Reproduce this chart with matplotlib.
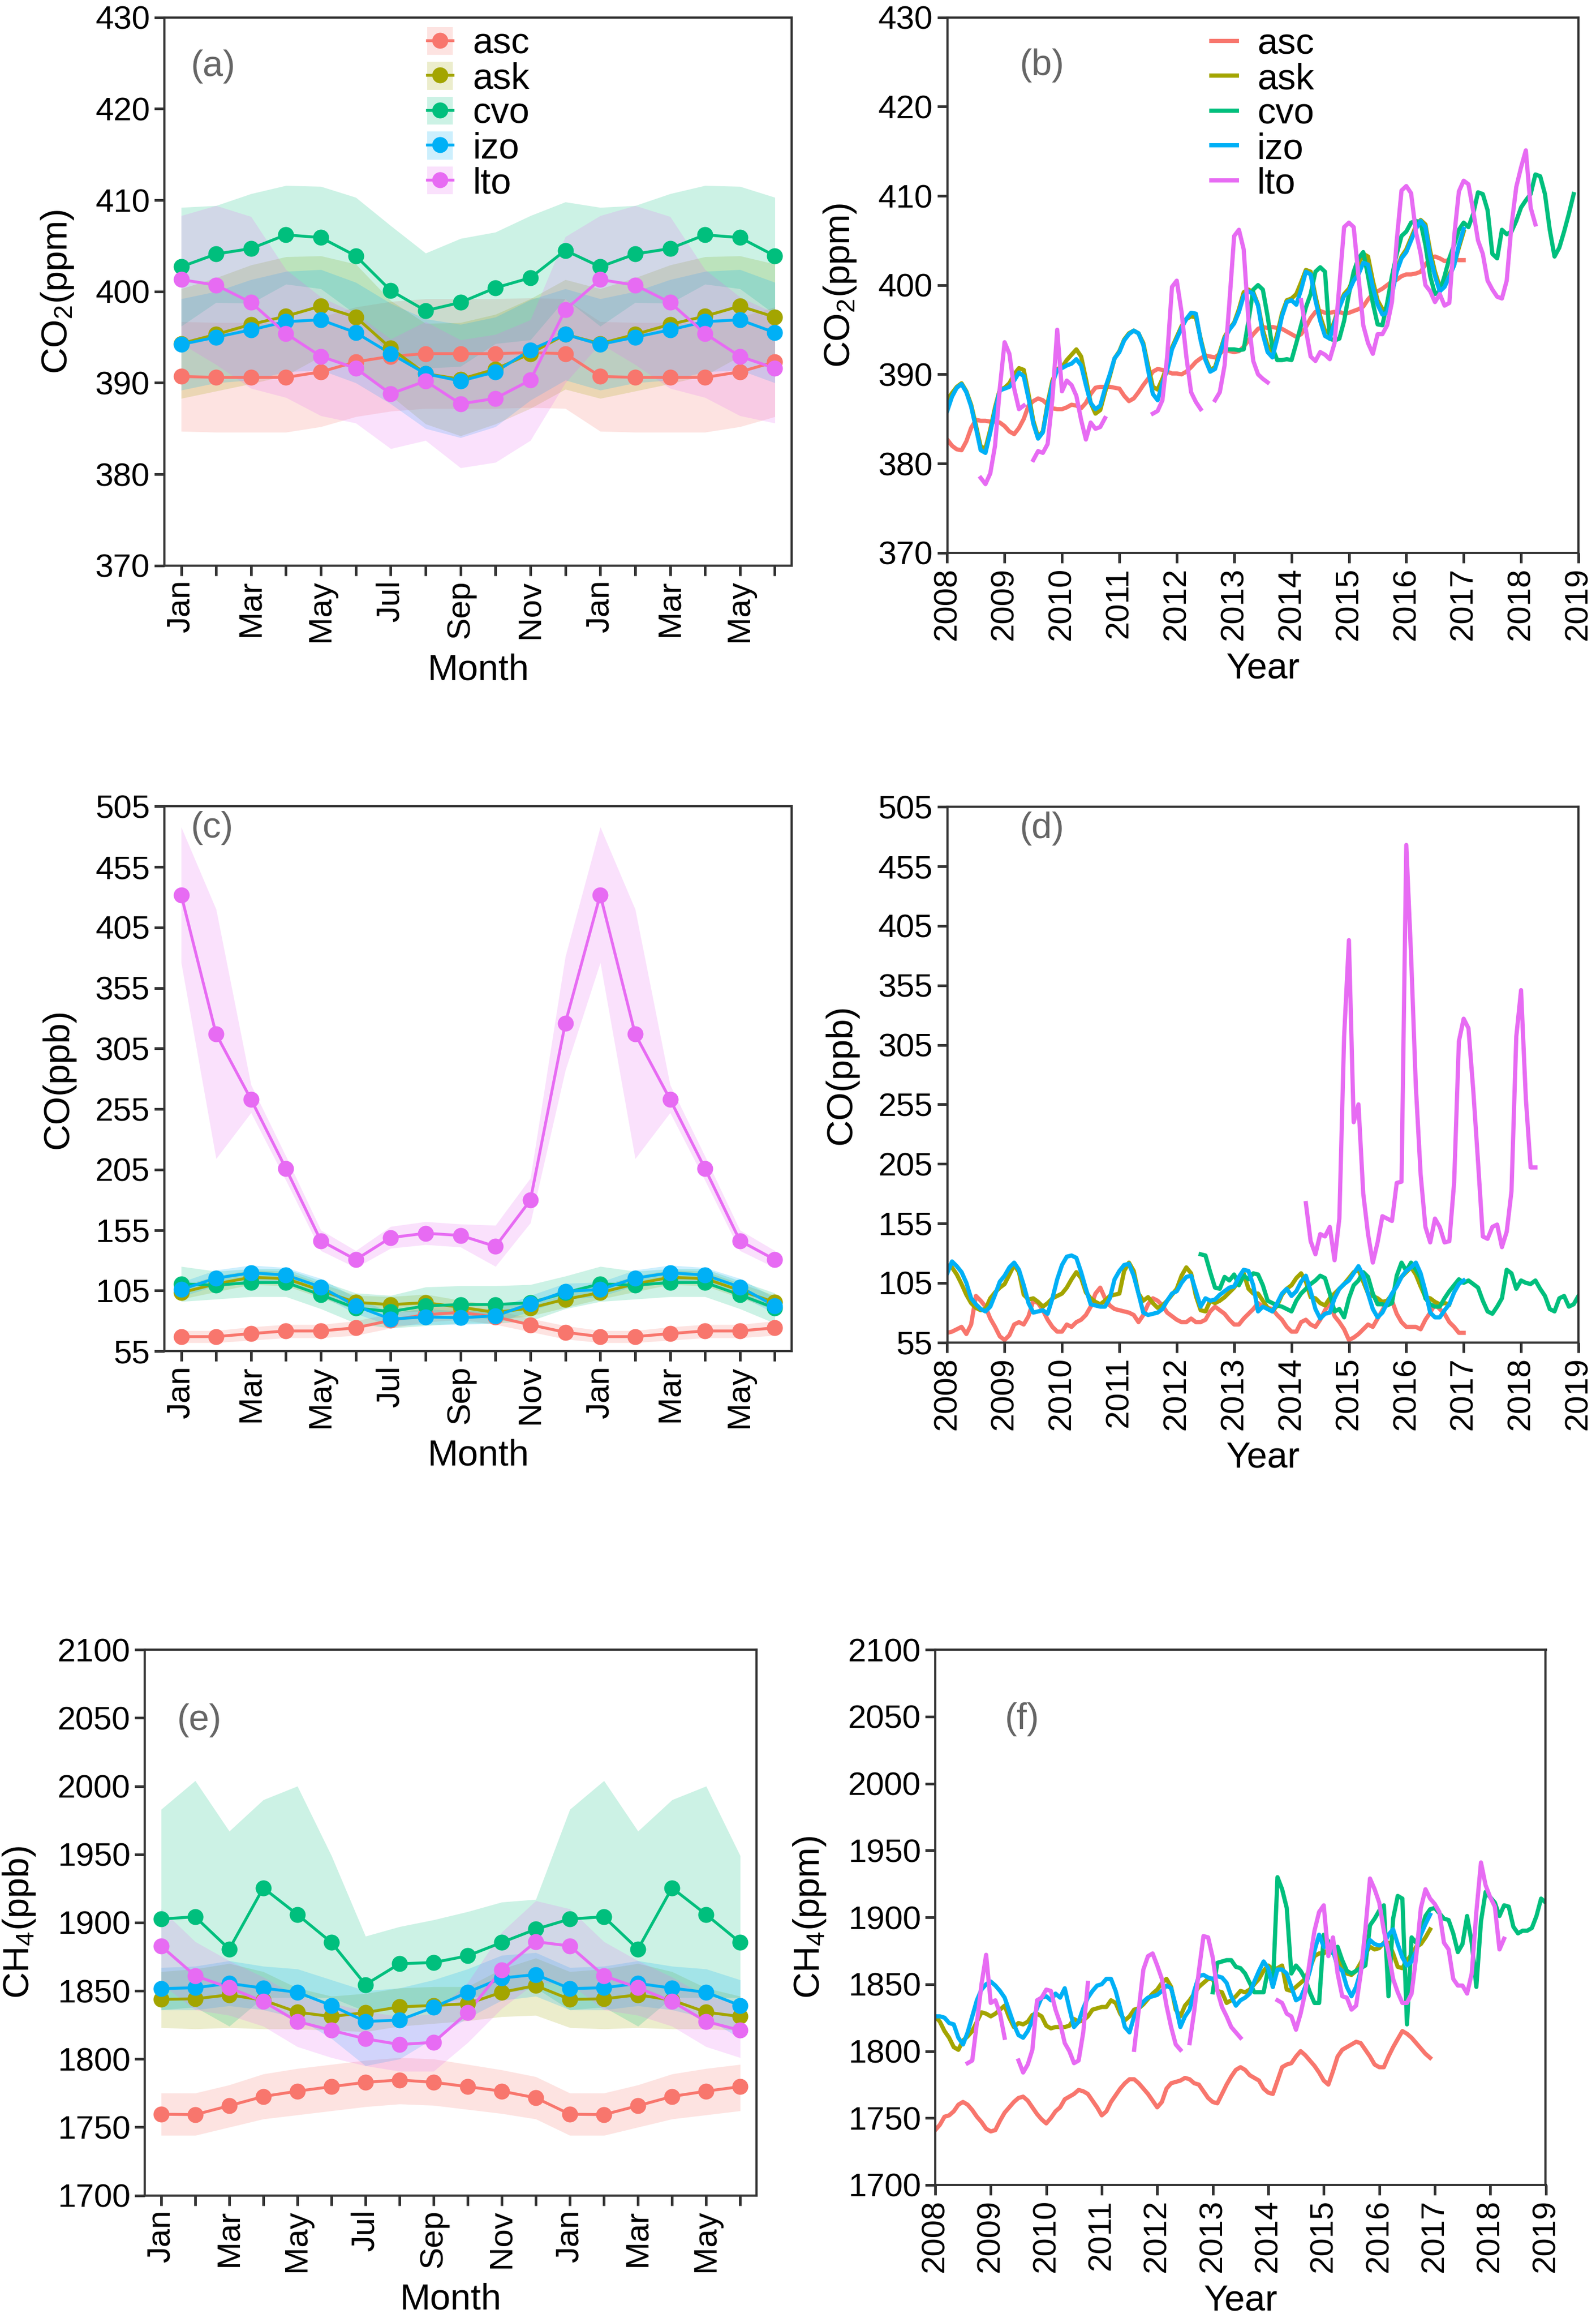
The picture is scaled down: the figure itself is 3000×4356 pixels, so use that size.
import numpy as np
import matplotlib
matplotlib.use("Agg")
import matplotlib.pyplot as plt
from matplotlib.patches import Patch
from matplotlib.lines import Line2D

plt.rcParams['font.family'] = ['Liberation Sans', 'DejaVu Sans']
plt.rcParams['mathtext.fontset'] = 'custom'
plt.rcParams['mathtext.rm'] = 'Liberation Sans'
plt.rcParams['mathtext.it'] = 'Liberation Sans'
plt.rcParams['mathtext.bf'] = 'Liberation Sans'

# ---------------- data ----------------
stations = ["asc", "ask", "cvo", "izo", "lto"]
colors = {"asc": "#F8766D", "ask": "#A3A500", "cvo": "#00BF7D", "izo": "#00B0F6", "lto": "#E76BF3"}
month_labels = ["Jan", "", "Mar", "", "May", "", "Jul", "", "Sep", "", "Nov", "",
                "Jan", "", "Mar", "", "May", ""]
year_ticks = list(range(2008, 2020))

# (a) CO2 monthly climatology (Jan..Dec): mean and half-width of band
co2_mean = {
    "asc": [390.7, 390.6, 390.6, 390.6, 391.2, 392.3, 392.9, 393.2, 393.2, 393.2, 393.3, 393.2],
    "ask": [394.3, 395.3, 396.4, 397.3, 398.4, 397.2, 393.8, 391.0, 390.4, 391.5, 393.2, 395.3],
    "cvo": [402.7, 404.1, 404.7, 406.2, 405.9, 403.9, 400.1, 397.9, 398.8, 400.4, 401.5, 404.5],
    "izo": [394.2, 395.0, 395.8, 396.7, 396.9, 395.5, 393.2, 391.0, 390.2, 391.2, 393.6, 395.3],
    "lto": [401.3, 400.7, 398.8, 395.4, 392.9, 391.6, 388.8, 390.2, 387.7, 388.3, 390.3, 398.0],
}
co2_sd = {
    "asc": [6.0, 6.0, 6.0, 6.0, 6.0, 6.0, 6.0, 6.0, 6.0, 6.0, 6.0, 6.0],
    "ask": [6.0, 6.2, 6.5, 6.5, 5.5, 5.8, 5.2, 5.5, 6.2, 6.0, 6.0, 6.0],
    "cvo": [6.5, 5.3, 6.0, 5.4, 5.6, 6.4, 7.1, 6.3, 7.0, 6.1, 6.8, 5.3],
    "izo": [5.0, 5.0, 5.5, 5.5, 5.5, 5.5, 5.5, 6.0, 6.2, 6.0, 5.5, 5.0],
    "lto": [7.0, 8.7, 9.4, 7.0, 6.5, 6.0, 6.0, 6.5, 7.0, 7.0, 6.6, 8.0],
}

# (c) CO monthly climatology
co_mean = {
    "asc": [67.0, 67.0, 69.5, 71.7, 71.7, 74.3, 80.4, 85.2, 87.0, 83.3, 76.8, 70.6],
    "ask": [103.3, 110.6, 116.0, 115.0, 105.2, 95.3, 93.5, 95.0, 91.3, 87.0, 90.6, 97.9],
    "cvo": [110.6, 109.5, 111.7, 111.7, 101.5, 90.6, 87.7, 92.4, 93.5, 93.5, 95.0, 103.3],
    "izo": [105.9, 115.3, 119.7, 117.9, 108.0, 92.4, 81.5, 83.3, 82.6, 84.1, 94.2, 104.4],
    "lto": [432.0, 317.0, 263.0, 205.8, 146.2, 130.6, 148.8, 152.4, 150.6, 141.5, 179.7, 326.0],
}
co_lo = {
    "asc": [62, 62, 64, 66, 66, 68, 74, 79, 81, 77, 71, 65],
    "ask": [98, 104, 110, 109, 99, 89, 87, 88, 85, 81, 84, 91],
    "cvo": [96, 98, 100, 100, 90, 78, 74, 76, 78, 78, 80, 90],
    "izo": [100, 109, 113, 111, 101, 86, 76, 77, 77, 78, 88, 98],
    "lto": [376, 214, 252, 196, 138, 124, 140, 143, 141, 125, 161, 287],
}
co_hi = {
    "asc": [72, 72, 75, 77, 77, 80, 86, 91, 93, 89, 82, 76],
    "ask": [109, 117, 122, 121, 111, 101, 100, 102, 97, 93, 97, 104],
    "cvo": [125, 121, 123, 123, 113, 103, 101, 108, 109, 109, 110, 117],
    "izo": [112, 122, 126, 124, 115, 99, 87, 90, 88, 90, 101, 111],
    "lto": [488, 420, 275, 216, 155, 138, 158, 162, 160, 159, 198, 381],
}

# (e) CH4 monthly climatology
ch4_mean = {
    "asc": [1759.5, 1759.2, 1765.7, 1772.5, 1776.4, 1779.7, 1782.9, 1784.6, 1782.9, 1779.7, 1776.4, 1771.5],
    "ask": [1843.7, 1844.1, 1847.0, 1843.1, 1834.3, 1831.1, 1834.0, 1838.2, 1839.2, 1840.5, 1848.9, 1853.8],
    "cvo": [1902.6, 1904.2, 1880.5, 1925.4, 1905.9, 1885.4, 1854.5, 1869.8, 1870.7, 1875.6, 1885.4, 1895.1],
    "izo": [1851.6, 1852.2, 1855.4, 1851.9, 1848.9, 1839.2, 1827.5, 1828.5, 1837.9, 1848.9, 1859.3, 1861.9],
    "lto": [1882.8, 1861.0, 1852.2, 1842.1, 1827.5, 1821.0, 1814.8, 1810.6, 1812.2, 1834.0, 1865.2, 1886.0],
}
ch4_lo = {
    "asc": [1744, 1744, 1750, 1756, 1759, 1762, 1765, 1767, 1766, 1763, 1760, 1756],
    "ask": [1823, 1822, 1823, 1822, 1822, 1821, 1820, 1824, 1826, 1828, 1831, 1832],
    "cvo": [1836, 1838, 1824, 1845, 1845, 1845, 1835, 1838, 1840, 1845, 1848, 1852],
    "izo": [1836, 1836, 1839, 1836, 1830, 1815, 1795, 1800, 1815, 1830, 1843, 1846],
    "lto": [1855, 1836, 1832, 1824, 1809, 1801, 1795, 1791, 1791, 1812, 1837, 1856],
}
ch4_hi = {
    "asc": [1775, 1775, 1781, 1789, 1793, 1796, 1799, 1801, 1800, 1796, 1792, 1787],
    "ask": [1864, 1866, 1870, 1864, 1852, 1846, 1848, 1852, 1853, 1853, 1866, 1874],
    "cvo": [1983, 2004, 1967, 1990, 2000, 1949, 1890, 1897, 1902, 1908, 1915, 1917],
    "izo": [1867, 1868, 1872, 1868, 1866, 1858, 1850, 1852, 1858, 1866, 1876, 1878],
    "lto": [1910, 1886, 1872, 1860, 1846, 1841, 1835, 1831, 1833, 1856, 1893, 1916],
}

# (b) CO2 monthly time series: (start year, start month, values)
co2_ts = {
    "asc": [(2008, 1, [
        382.7, 382.0, 381.6, 381.5, 382.5, 384.0, 384.9, 384.8, 384.8, 384.7, 384.7, 384.6,
        384.2, 383.6, 383.3, 384.0, 385.0, 386.5, 387.0, 387.3, 387.1, 386.6, 386.2, 386.1,
        386.1, 386.3, 386.6, 386.5, 386.2, 386.8, 387.8, 388.5, 388.6, 388.6, 388.6, 388.5,
        388.4, 387.6, 387.0, 387.3, 388.0, 388.8, 389.5, 390.3, 390.6, 390.5, 390.3, 390.1,
        390.1, 390.0, 390.3, 390.8, 391.4, 391.8, 392.1, 392.0, 391.9, 392.3, 392.8, 392.6,
        392.5, 392.6, 393.1, 393.8, 394.5, 395.1, 395.3, 395.2, 395.3, 395.2, 395.1, 394.8,
        394.5, 394.2, 394.5, 395.3, 396.3, 397.0, 397.1, 396.9, 396.9, 397.0, 397.0, 396.8,
        396.9, 397.1, 397.3, 397.6, 398.4, 399.0, 399.3, 399.6, 400.0, 400.4, 400.6, 401.0,
        401.2, 401.2, 401.3, 401.5, 402.3, 403.0, 403.2, 403.0, 402.7, 402.8, 402.9, 402.8,
        402.8])],
    "ask": [(2008, 1, [
        387.1, 387.9, 388.6, 389.0, 388.1, 386.6, 384.3, 381.9, 381.7, 383.8, 386.3, 388.3,
        388.5, 389.0, 390.0, 390.7, 390.5, 387.8, 384.8, 383.0, 383.6, 386.8, 389.3, 390.6,
        390.8, 391.6, 392.2, 392.8, 392.0, 389.5, 386.8, 385.6, 386.0, 388.0, 389.8, 391.8,
        392.6, 393.9, 394.6, 394.9, 394.6, 393.5, 391.0, 388.6, 388.3, 389.5, 391.0, 393.0,
        394.2, 395.4, 396.2, 396.5, 396.4, 394.0, 391.8, 390.5, 390.8, 392.5, 394.2, 395.1,
        395.8, 397.3, 399.2, 399.5, 399.2, 397.8, 395.0, 393.2, 392.6, 394.5, 396.8, 398.3,
        398.5, 399.0, 400.3, 401.7, 401.5, 398.8, 396.5, 394.9, 394.6, 396.0, 397.8, 399.0,
        399.6, 400.8, 402.3, 403.5, 403.2, 400.5, 398.3, 397.3, 397.4, 399.4, 401.7, 403.2,
        404.0, 405.3, 406.6, 407.3, 406.8, 403.8, 401.5, 399.8, 400.0, 401.2, 402.3, 404.2,
        406.0])],
    "cvo": [(2012, 12, [
        392.8,
        392.8, 392.7, 392.8, 396.0, 399.5, 400.0, 399.5, 396.5, 393.0, 391.6, 391.6, 391.7,
        391.6, 393.5, 395.5, 397.5, 399.0, 401.5, 402.0, 401.5, 394.0, 393.8, 394.0, 396.0,
        399.0, 401.5, 403.0, 403.7, 401.0, 398.0, 395.6, 395.5, 398.0, 401.0, 403.5, 405.5,
        406.0, 407.0, 407.2, 407.0, 404.5, 401.0, 399.0, 399.3, 401.0, 403.0, 404.5, 406.2,
        407.0, 406.5, 408.0, 410.4, 410.2, 408.4, 403.5, 403.0, 406.2, 405.7, 406.0, 407.2,
        408.7, 409.5, 410.2, 412.4, 412.2, 410.2, 406.2, 403.2, 404.2, 406.0, 408.0, 410.2])],
    "izo": [(2008, 1, [
        385.9, 387.5, 388.5, 388.9, 388.0, 386.4, 384.0, 381.5, 381.2, 383.5, 386.0, 388.2,
        388.4, 388.6, 389.3, 390.2, 389.8, 387.3, 384.5, 382.8, 383.5, 386.5, 389.0, 390.5,
        390.7, 391.0, 391.2, 391.7, 391.0, 388.8, 386.8, 386.1, 386.5, 388.4, 390.0, 391.8,
        392.5, 393.8, 394.5, 394.9, 394.6, 393.3, 390.5, 387.8, 387.1, 389.0, 390.5, 392.8,
        394.0, 395.2, 396.2, 396.9, 396.8, 393.8, 391.6, 390.3, 390.6, 392.3, 394.0, 395.0,
        395.7, 397.0, 398.8, 399.3, 399.0, 397.7, 394.5, 392.5, 391.9, 394.0, 396.5, 398.1,
        398.3, 397.8, 399.5, 401.5, 401.2, 398.3, 396.0, 394.3, 394.0, 395.8, 397.5, 398.8,
        399.3, 400.5, 401.2, 402.5, 402.3, 399.8, 397.8, 396.7, 396.9, 399.0, 401.5, 403.0,
        403.7, 405.0, 406.3, 407.2, 406.5, 403.2, 401.0, 399.3, 399.8, 401.0, 402.2, 404.5,
        406.3])],
    "lto": [
        (2008, 8, [378.4, 377.7, 378.9, 382.0, 388.5, 393.6, 392.3, 388.4, 386.1, 386.5]),
        (2009, 7, [380.4, 381.4, 381.2, 382.2, 387.3, 395.0, 388.1, 389.3, 388.8, 387.6,
                   384.9, 382.7, 384.6, 383.9, 384.1, 385.1]),
        (2011, 8, [385.6, 385.9, 387.1, 392.0, 399.8, 400.5, 397.0, 392.0, 388.0, 386.9, 386.1]),
        (2012, 9, [387.1, 388.0, 391.0, 398.0, 405.5, 406.2, 404.0, 396.0, 391.5, 390.0,
                   389.5, 389.1]),
        (2014, 3, [398.3, 395.0, 392.0, 391.5, 392.5, 392.2, 391.7, 393.5, 400.0, 406.5,
                   407.0, 406.5, 401.0, 395.5, 393.5, 392.3, 394.5, 394.5, 395.5, 398.1, 405.0, 410.6,
                   411.1, 410.3, 406.0, 403.5, 400.0, 399.3, 398.1, 399.0, 397.7, 398.0, 405.4, 410.5,
                   411.7, 411.3, 408.3, 405.0, 403.5, 400.5, 399.5, 398.7, 398.5, 400.5, 406.7, 411.0,
                   413.2, 415.1, 408.7, 406.8]),
    ],
}

# (d) CO monthly time series
co_ts = {
    "asc": [(2008, 1, [
        63, 64, 66, 68, 62, 70, 94, 90, 85, 75, 68, 60,
        57, 61, 70, 72, 70, 77, 90, 88, 82, 74, 68, 64,
        64, 70, 68, 72, 74, 78, 85, 96, 101, 92, 86, 83,
        82, 81, 80, 78, 72, 78, 87, 92, 90, 86, 80, 77,
        74, 72, 72, 75, 72, 72, 74, 81, 85, 82, 79, 74,
        70, 70, 75, 79, 83, 88, 85, 84, 83, 78, 74, 68,
        64, 64, 72, 74, 70, 68, 74, 82, 88, 77, 72, 66,
        57, 59, 62, 66, 70, 68, 75, 82, 89, 90, 79, 72,
        68, 68, 68, 66, 74, 80, 87, 83, 79, 72, 68, 63,
        63])],
    "ask": [(2008, 1, [
        120, 118, 112, 104, 95, 88, 84, 82, 83, 92, 97, 101,
        104, 112, 120, 114, 95, 91, 92, 89, 85, 88, 92, 94,
        96, 101, 108, 114, 109, 97, 92, 89, 87, 90, 94, 95,
        96, 115, 122, 115, 96, 90, 93, 88, 84, 86, 90, 95,
        100, 111, 118, 113, 94, 82, 81, 90, 88, 90, 93, 97,
        101, 107, 113, 100, 96, 96, 90, 84, 81, 86, 95, 100,
        103, 109, 113, 106, 93, 92, 88, 86, 92, 96, 100, 104,
        109, 114, 116, 106, 96, 94, 92, 89, 90, 95, 103, 110,
        114, 118, 112, 102, 93, 92, 89, 87, 88, 87])],
    "cvo": [(2012, 6, [
        129, 128, 114, 101, 100, 110, 107,
        112, 103, 111, 108, 113, 112, 103, 90, 88, 86, 85, 83,
        81, 90, 96, 100, 104, 107, 111, 109, 96, 81, 83, 76,
        92, 103, 107, 114, 110, 96, 87, 87, 86, 88, 111, 122,
        115, 122, 116, 109, 92, 87, 85, 85, 92, 98, 103, 108,
        105, 107, 104, 101, 90, 81, 79, 85, 92, 116, 113, 100,
        107, 105, 104, 107, 100, 94, 83, 81, 92, 94, 85, 87,
        94])],
    "izo": [(2008, 1, [
        113, 123, 119, 114, 105, 92, 87, 83, 81, 85, 95, 106,
        111, 118, 122, 116, 103, 88, 80, 81, 82, 79, 92, 108,
        120, 127, 128, 126, 114, 100, 87, 86, 85, 85, 92, 108,
        115, 120, 121, 111, 96, 80, 78, 79, 80, 83, 90, 96,
        98, 105, 110, 111, 98, 85, 92, 90, 91, 95, 98, 101,
        102, 110, 116, 115, 103, 81, 85, 83, 81, 88, 96, 100,
        94, 98, 106, 111, 98, 83, 75, 79, 80, 92, 100, 104,
        107, 113, 119, 111, 96, 83, 76, 80, 88, 96, 102, 110,
        115, 118, 122, 113, 98, 80, 76, 76, 82, 87, 97, 104,
        107])],
    "lto": [(2014, 4, [
        172, 140, 129, 146, 144, 152, 124, 159, 312,
        393, 240, 255, 180, 146, 122, 139, 161, 159, 157, 189, 190,
        473, 380, 270, 196, 152, 139, 159, 152, 139, 140, 189, 308,
        327, 319, 267, 207, 144, 142, 152, 154, 135, 148, 182, 312,
        351, 260, 202, 202])],
}

# (f) CH4 monthly time series
ch4_ts = {
    "asc": [(2008, 1, [
        1741, 1745, 1751, 1752, 1755, 1760, 1762, 1760, 1756, 1751, 1747, 1742,
        1740, 1741, 1748, 1754, 1758, 1762, 1765, 1766, 1763, 1758, 1753, 1749,
        1746, 1750, 1755, 1758, 1764, 1766, 1768, 1771, 1770, 1768, 1763, 1758,
        1752, 1755, 1762, 1767, 1772, 1776, 1779, 1779, 1776, 1772, 1768, 1763,
        1758, 1762, 1772, 1776, 1777, 1778, 1780, 1779, 1776, 1775, 1770, 1765,
        1762, 1761, 1768, 1775, 1781, 1786, 1788, 1786, 1782, 1780, 1778, 1772,
        1769, 1768, 1778, 1788, 1790, 1791, 1796, 1800, 1797, 1793, 1789, 1784,
        1778, 1775, 1785, 1796, 1801, 1803, 1805, 1807, 1806, 1801, 1796, 1790,
        1788, 1788, 1796, 1803, 1809, 1815, 1813, 1810, 1806, 1802, 1798, 1795])],
    "ask": [(2008, 1, [
        1826, 1822, 1815, 1810, 1803, 1801, 1808, 1811, 1815, 1822, 1829, 1828,
        1826, 1828, 1831, 1834, 1825, 1818, 1821, 1820, 1822, 1827, 1828, 1826,
        1819, 1817, 1818, 1818, 1818, 1819, 1824, 1822, 1823, 1826, 1831, 1832,
        1833, 1833, 1838, 1836, 1828, 1823, 1826, 1831, 1832, 1835, 1839, 1843,
        1846, 1851, 1854, 1848, 1831, 1826, 1834, 1838, 1843, 1848, 1851, 1854,
        1854, 1845, 1844, 1836, 1838, 1841, 1845, 1844, 1846, 1850, 1854, 1860,
        1864, 1861, 1862, 1864, 1846, 1845, 1848, 1851, 1854, 1862, 1871, 1873,
        1873, 1876, 1881, 1870, 1861, 1858, 1857, 1860, 1866, 1873, 1878, 1876,
        1877, 1881, 1881, 1873, 1863, 1862, 1868, 1872, 1878, 1880, 1885, 1891])],
    "cvo": [(2013, 1, [
        1844, 1866, 1867, 1868, 1868, 1863, 1862, 1858, 1851, 1844, 1844, 1844,
        1862, 1848, 1930, 1921, 1907, 1858, 1864, 1860, 1854, 1844, 1836, 1836,
        1887, 1882, 1873, 1878, 1868, 1860, 1858, 1860, 1862, 1864, 1894, 1899,
        1905, 1909, 1841, 1899, 1916, 1914, 1820, 1885, 1881, 1890, 1901, 1906,
        1907, 1903, 1899, 1898, 1888, 1874, 1880, 1901, 1881, 1848, 1897, 1919,
        1915, 1911, 1901, 1909, 1908, 1893, 1888, 1890, 1890, 1892, 1901, 1914,
        1911])],
    "izo": [(2008, 1, [
        1826, 1826, 1825, 1821, 1820, 1810, 1805, 1814, 1826, 1838, 1846, 1850,
        1852, 1849, 1845, 1840, 1830, 1820, 1812, 1810, 1815, 1823, 1832, 1840,
        1841, 1838, 1843, 1840, 1847, 1832, 1818, 1822, 1832, 1840, 1845, 1849,
        1850, 1854, 1854, 1845, 1832, 1818, 1814, 1826, 1832, 1837, 1840, 1841,
        1842, 1845, 1849, 1847, 1834, 1818, 1826, 1831, 1845, 1856, 1857, 1855,
        1854, 1856, 1855, 1851, 1841, 1834, 1838, 1840, 1843, 1852, 1860, 1867,
        1862, 1848, 1861, 1861, 1858, 1848, 1838, 1840, 1848, 1860, 1875, 1887,
        1878, 1878, 1875, 1863, 1860, 1848, 1841, 1848, 1860, 1873, 1883, 1880,
        1879, 1880, 1887, 1891, 1880, 1870, 1864, 1867, 1875, 1887, 1895, 1902])],
    "lto": [
        (2008, 8, [1791, 1793, 1821, 1850, 1872, 1836, 1838, 1828, 1810]),
        (2009, 7, [1793, 1784, 1790, 1801, 1838, 1840, 1846, 1845, 1831, 1821, 1806, 1800,
                   1791, 1793, 1814, 1851]),
        (2011, 8, [1801, 1831, 1861, 1871, 1873, 1864, 1854, 1834, 1818, 1805, 1801]),
        (2012, 8, [1806, 1830, 1860, 1886, 1885, 1870, 1845, 1833, 1826, 1818, 1814, 1810]),
        (2014, 3, [1838, 1836, 1828, 1826, 1816, 1828, 1844, 1868, 1890, 1904,
                   1909, 1871, 1885, 1858, 1841, 1840, 1831, 1834, 1858, 1891, 1929, 1921,
                   1911, 1890, 1874, 1854, 1844, 1836, 1836, 1843, 1871, 1907, 1921, 1914,
                   1910, 1904, 1881, 1876, 1854, 1849, 1849, 1843, 1858, 1904, 1941, 1924,
                   1915, 1908, 1876, 1884]),
    ],
}

# ---------------- plotting ----------------
TICK_FS = 14.8
LAB_FS = 16.5
LEG_FS = 16.5
SPINE = "#333333"

fig = plt.figure(figsize=(10, 14.52), dpi=300)
pos = {
    "a": [0.1030, 0.7560, 0.3930, 0.2365],
    "b": [0.5935, 0.7615, 0.3955, 0.2310],
    "c": [0.1030, 0.4171, 0.3930, 0.2350],
    "d": [0.5935, 0.4209, 0.3955, 0.2310],
    "e": [0.0907, 0.0529, 0.3833, 0.2354],
    "f": [0.5860, 0.0574, 0.3825, 0.2309],
}
tag_pos = {"a": (0.042, 0.91), "b": (0.115, 0.91), "c": (0.042, 0.96),
           "d": (0.115, 0.96), "e": (0.053, 0.87), "f": (0.114, 0.87)}


def style(ax):
    for s in ax.spines.values():
        s.set_color(SPINE)
        s.set_linewidth(1.0)
    ax.tick_params(axis='both', direction='out', length=4.5, width=1.2, color=SPINE,
                   labelsize=TICK_FS, labelcolor='black', pad=2)


def add_tag(ax, tag):
    x, y = tag_pos[tag]
    ax.text(x, y, "(%s)" % tag, transform=ax.transAxes, fontsize=16.5, color="#666666",
            ha='left', va='center')


def monthly_panel(ax, mean, lo, hi, ylim, yticks, ylabel, tag, legend=False):
    x = np.arange(1, 19)
    for s in stations:
        l18 = np.array(lo[s] + lo[s][:6])
        h18 = np.array(hi[s] + hi[s][:6])
        ax.fill_between(x, l18, h18, color=colors[s], alpha=0.2, linewidth=0)
    for s in stations:
        m18 = mean[s] + mean[s][:6]
        ax.plot(x, m18, color=colors[s], lw=1.3)
    for s in stations:
        m18 = mean[s] + mean[s][:6]
        ax.plot(x, m18, 'o', color=colors[s], ms=7.2, mec='none')
    ax.set_xlim(0.52, 18.48)
    ax.set_ylim(*ylim)
    ax.set_yticks(yticks)
    ax.set_xticks(x)
    ax.set_xticklabels(month_labels, rotation=90)
    ax.set_xlabel("Month", fontsize=LAB_FS, labelpad=5)
    ax.set_ylabel(ylabel, fontsize=LAB_FS, labelpad=9)
    add_tag(ax, tag)
    style(ax)
    if legend:
        handles = [(Patch(facecolor=colors[s], alpha=0.2, edgecolor='none'),
                    Line2D([], [], color=colors[s], lw=1.3, marker='o', ms=7.2, mec='none'))
                   for s in stations]
        ax.legend(handles, stations, loc='upper left', bbox_to_anchor=(0.372, 1.036),
                  frameon=False, fontsize=LEG_FS, handlelength=0.7, handleheight=0.8,
                  labelspacing=0.02, handletextpad=0.55, borderpad=0.3)


def ts_panel(ax, ts, ylim, yticks, ylabel, tag, legend=False):
    for s in stations:
        for (y0, m0, vals) in ts.get(s, []):
            t = y0 + (m0 - 1) / 12.0 + np.arange(len(vals)) / 12.0
            ax.plot(t, vals, color=colors[s], lw=1.9)
    ax.set_xlim(2008, 2019)
    ax.set_ylim(*ylim)
    ax.set_yticks(yticks)
    ax.set_xticks(year_ticks)
    ax.set_xticklabels([str(y) for y in year_ticks], rotation=90)
    ax.set_xlabel("Year", fontsize=LAB_FS, labelpad=5)
    ax.set_ylabel(ylabel, fontsize=LAB_FS, labelpad=9)
    add_tag(ax, tag)
    style(ax)
    if legend:
        handles = [Line2D([], [], color=colors[s], lw=1.9) for s in stations]
        ax.legend(handles, stations, loc='upper left', bbox_to_anchor=(0.372, 1.036),
                  frameon=False, fontsize=LEG_FS, handlelength=0.7, handleheight=0.8,
                  labelspacing=0.02, handletextpad=0.55, borderpad=0.3)


axa = fig.add_axes(pos["a"])
monthly_panel(axa, co2_mean, {s: [m - d for m, d in zip(co2_mean[s], co2_sd[s])] for s in stations},
              {s: [m + d for m, d in zip(co2_mean[s], co2_sd[s])] for s in stations},
              (370, 430), list(range(370, 431, 10)), "CO$_2$(ppm)", "a", legend=True)

axb = fig.add_axes(pos["b"])
ts_panel(axb, co2_ts, (370, 430), list(range(370, 431, 10)), "CO$_2$(ppm)", "b", legend=True)

axc = fig.add_axes(pos["c"])
monthly_panel(axc, co_mean, co_lo, co_hi, (55, 505), list(range(55, 506, 50)), "CO(ppb)", "c")

axd = fig.add_axes(pos["d"])
ts_panel(axd, co_ts, (55, 505), list(range(55, 506, 50)), "CO(ppb)", "d")

axe = fig.add_axes(pos["e"])
monthly_panel(axe, ch4_mean, ch4_lo, ch4_hi, (1700, 2100), list(range(1700, 2101, 50)), "CH$_4$(ppb)", "e")

axf = fig.add_axes(pos["f"])
ts_panel(axf, ch4_ts, (1700, 2100), list(range(1700, 2101, 50)), "CH$_4$(ppm)", "f")

fig.savefig("out.png", dpi=300, facecolor="white")
